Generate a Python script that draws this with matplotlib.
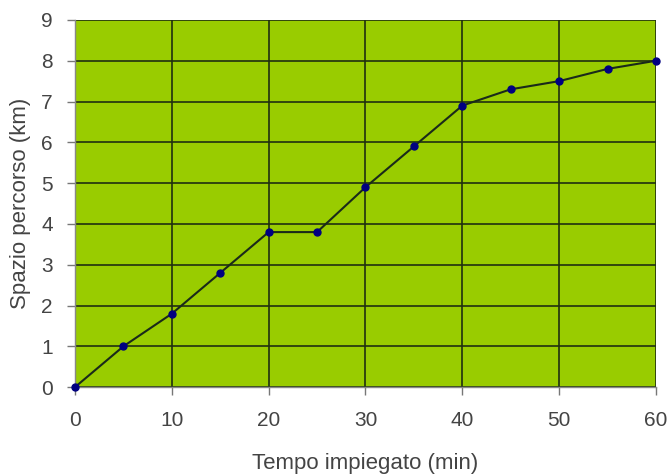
import matplotlib
matplotlib.use('Agg')
import matplotlib.pyplot as plt

tempo = [0, 5, 10, 15, 20, 25, 30, 35, 40, 45, 50, 55, 60]
spazio = [0, 1.0, 1.8, 2.8, 3.8, 3.8, 4.9, 5.9, 6.9, 7.3, 7.5, 7.8, 8.0]
x_ticks = [0, 10, 20, 30, 40, 50, 60]
y_ticks = list(range(0, 10))

plt.rcParams['font.family'] = ['Liberation Sans', 'DejaVu Sans']

fig = plt.figure(figsize=(6.72, 4.75), dpi=100)
ax = fig.add_axes([0.1116, 0.185, 0.8645, 0.773])
ax.set_facecolor('#99cc00')

ax.plot(tempo, spazio, color='#1a2a1a', lw=1.5, marker='o', ms=5,
        mfc='#000080', mec='#000080', zorder=3, clip_on=False)

ax.set_xlim(0, 60)
ax.set_ylim(0, 9)
ax.set_xticks(x_ticks)
ax.set_yticks(y_ticks)
ax.grid(True, color='#1f2f10', lw=1.2)
ax.set_axisbelow(True)

for side in ['top', 'right']:
    ax.spines[side].set_visible(False)
for side in ['left', 'bottom']:
    ax.spines[side].set_color('#888888')
    ax.spines[side].set_linewidth(1.0)

ax.tick_params(axis='both', colors='#777777', length=6, width=1,
               labelsize=15, labelcolor='#444444')
ax.tick_params(axis='x', pad=11)
ax.tick_params(axis='y', pad=10)

ax.set_xlabel('Tempo impiegato (min)', fontsize=16, color='#444444')
ax.set_ylabel('Spazio percorso (km)', fontsize=16, color='#444444')
ax.xaxis.set_label_coords(0.5, -0.18)
ax.yaxis.set_label_coords(-0.075, 0.5)

fig.savefig('out.png', dpi=100)
